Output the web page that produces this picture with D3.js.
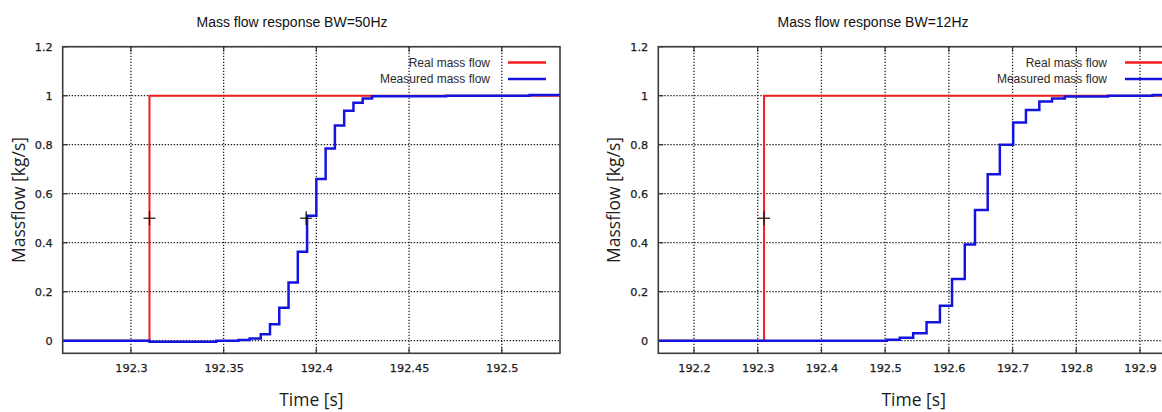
<!DOCTYPE html>
<html>
<head>
<meta charset="utf-8">
<script src="https://cdn.jsdelivr.net/npm/d3@7"></script>
<style>
  html, body { margin: 0; padding: 0; background: #fff; }
  svg { display: block; }
</style>
</head>
<body>
<svg id="chart" width="1162" height="412"></svg>
<script>
// ---- data -------------------------------------------------------------
// Step in the real mass flow (both panels)
const realStepTime = 192.31;
const realLow = 0;
const realHigh = 1;

// Measured response, 50 Hz bandwidth filter (sample-and-hold values)
const bw50Times = [192.2632, 192.31, 192.346, 192.358, 192.364, 192.37, 192.375, 192.38,
                   192.385, 192.39, 192.395, 192.40, 192.405, 192.41, 192.415, 192.42,
                   192.425, 192.43, 192.47, 192.515];
const bw50Flow  = [0, -0.004, 0, 0.003, 0.009, 0.026, 0.067, 0.135,
                   0.238, 0.363, 0.51, 0.66, 0.785, 0.878, 0.939, 0.971,
                   0.989, 0.998, 1.0, 1.003];

// Measured response, 12 Hz bandwidth filter
const bw12Times = [192.144, 192.3025, 192.5025, 192.523, 192.544, 192.565, 192.586, 192.605,
                   192.625, 192.641, 192.661, 192.68, 192.701, 192.721, 192.742, 192.762,
                   192.782, 192.85, 192.92];
const bw12Flow  = [0, 0, 0.004, 0.012, 0.03, 0.075, 0.143, 0.252,
                   0.393, 0.533, 0.679, 0.80, 0.891, 0.942, 0.976, 0.989,
                   0.997, 1.0, 1.003];

// 50 % crossing markers
const bw50MarkTimes = [192.31, 192.3945];
const bw50MarkFlow  = [0.5, 0.5];
const bw12MarkTimes = [192.31];
const bw12MarkFlow  = [0.5];

// Axis ticks and labels
const yTicks = [0, 0.2, 0.4, 0.6, 0.8, 1, 1.2];
const yTickLabels = ["0", "0.2", "0.4", "0.6", "0.8", "1", "1.2"];
const bw50XTicks = [192.3, 192.35, 192.4, 192.45, 192.5];
const bw50XTickLabels = ["192.3", "192.35", "192.4", "192.45", "192.5"];
const bw12XTicks = [192.2, 192.3, 192.4, 192.5, 192.6, 192.7, 192.8, 192.9];
const bw12XTickLabels = ["192.2", "192.3", "192.4", "192.5", "192.6", "192.7", "192.8", "192.9"];

const yDomain = [-0.0514, 1.2];
const bw50XDomain = [192.2632, 192.5314];
const bw12XDomain = [192.144, 192.9455];

const seriesNames = ["Real mass flow", "Measured mass flow"];

// ---- drawing ----------------------------------------------------------
const svg = d3.select("#chart");
const RED = "#f21c1c";
const BLUE = "#1414e0";

function panel(opts) {
  const { left, right, top, bottom, xDomain, xTicks, xLabels, times, flow,
          markTimes, markFlow, title, titleX, legendRight, clipId } = opts;

  const x = d3.scaleLinear().domain(xDomain).range([left, right]);
  const y = d3.scaleLinear().domain(yDomain).range([bottom, top]);

  const g = svg.append("g");

  g.append("defs").append("clipPath").attr("id", clipId)
    .append("rect").attr("x", left).attr("y", top)
    .attr("width", right - left).attr("height", bottom - top);

  // dotted grid
  const grid = g.append("g")
    .attr("stroke", "#222").attr("stroke-width", 1.3)
    .attr("stroke-dasharray", "1.4,1.6").attr("fill", "none");
  grid.selectAll("line.gx").data(xTicks).join("line")
    .attr("x1", d => x(d)).attr("x2", d => x(d))
    .attr("y1", top).attr("y2", bottom);
  grid.selectAll("line.gy").data(yTicks).join("line")
    .attr("x1", left).attr("x2", right)
    .attr("y1", d => y(d)).attr("y2", d => y(d));

  // axes (tick labels only, frame drawn separately)
  const xAxis = d3.axisBottom(x).tickValues(xTicks)
    .tickFormat((d, i) => xLabels[i]).tickSize(0).tickPadding(11);
  const yAxis = d3.axisLeft(y).tickValues(yTicks)
    .tickFormat((d, i) => yTickLabels[i]).tickSize(0).tickPadding(10);

  const xg = g.append("g").attr("transform", `translate(0,${bottom})`).call(xAxis);
  const yg = g.append("g").attr("transform", `translate(${left},0)`).call(yAxis);
  [xg, yg].forEach(a => {
    a.select(".domain").remove();
    a.selectAll("text").attr("font-family", "DejaVu Sans")
      .attr("font-size", 11.3).attr("fill", "#1c1c1c")
      .attr("stroke", "#1c1c1c").attr("stroke-width", 0.25);
  });

  // inward tick marks
  const tk = g.append("g").attr("stroke", "#333").attr("stroke-width", 1.3);
  tk.selectAll("line.bx").data(xTicks).join("line")
    .attr("x1", d => x(d)).attr("x2", d => x(d))
    .attr("y1", bottom).attr("y2", bottom - 5);
  tk.selectAll("line.ty").data(xTicks).join("line")
    .attr("x1", d => x(d)).attr("x2", d => x(d))
    .attr("y1", top).attr("y2", top + 5);
  tk.selectAll("line.ly").data(yTicks).join("line")
    .attr("x1", left).attr("x2", left + 5)
    .attr("y1", d => y(d)).attr("y2", d => y(d));

  // series
  const line = d3.line().curve(d3.curveStepAfter)
    .x(d => x(d[0])).y(d => y(d[1]));

  const realPts = [[xDomain[0], realLow], [realStepTime, realHigh], [xDomain[1], realHigh]];
  const measPts = times.map((t, i) => [t, flow[i]]);
  measPts.push([xDomain[1], flow[flow.length - 1]]);

  const plot = g.append("g").attr("clip-path", `url(#${clipId})`);
  plot.append("path").datum(realPts).attr("d", line)
    .attr("fill", "none").attr("stroke", RED).attr("stroke-width", 2);
  plot.append("path").datum(measPts).attr("d", line)
    .attr("fill", "none").attr("stroke", BLUE).attr("stroke-width", 2.5)
    .attr("stroke-linejoin", "miter");

  // 50 % markers
  const mk = g.append("g").attr("stroke", "#111").attr("stroke-width", 1.2);
  markTimes.forEach((t, i) => {
    const cx = x(t), cy = y(markFlow[i]);
    mk.append("line").attr("x1", cx - 6).attr("x2", cx + 6).attr("y1", cy).attr("y2", cy);
    mk.append("line").attr("x1", cx).attr("x2", cx).attr("y1", cy - 7).attr("y2", cy + 7);
  });

  // frame
  g.append("rect").attr("x", left).attr("y", top)
    .attr("width", right - left).attr("height", bottom - top)
    .attr("fill", "none").attr("stroke", "#3c3c3c").attr("stroke-width", 1.6);

  // legend
  const lg = g.append("g");
  [RED, BLUE].forEach((c, i) => {
    const ly = 62.5 + i * 16.5;
    lg.append("text").attr("x", legendRight).attr("y", ly)
      .attr("dy", "0.35em").attr("text-anchor", "end")
      .attr("font-family", "Liberation Sans").attr("font-size", 12)
      .attr("fill", "#2a2a2a").text(seriesNames[i]);
    lg.append("line").attr("x1", legendRight + 18).attr("x2", legendRight + 56)
      .attr("y1", ly).attr("y2", ly).attr("stroke", c).attr("stroke-width", 2.4);
  });

  // titles
  g.append("text").attr("x", titleX).attr("y", 27)
    .attr("text-anchor", "middle").attr("font-family", "Liberation Sans")
    .attr("font-size", 14).attr("fill", "#111").text(title);
  g.append("text").attr("x", (left + right) / 2).attr("y", 406)
    .attr("text-anchor", "middle").attr("font-family", "Open Sans")
    .attr("font-size", 17.5).attr("fill", "#1c1c1c").text("Time [s]");
  g.append("text")
    .attr("transform", `translate(${left - 38},${(top + bottom) / 2}) rotate(-90)`)
    .attr("text-anchor", "middle").attr("font-family", "Open Sans")
    .attr("font-size", 17.5).attr("fill", "#1c1c1c").text("Massflow [kg/s]");
}

panel({
  left: 62.7, right: 560, top: 46.7, bottom: 353.3,
  xDomain: bw50XDomain, xTicks: bw50XTicks, xLabels: bw50XTickLabels,
  times: bw50Times, flow: bw50Flow,
  markTimes: bw50MarkTimes, markFlow: bw50MarkFlow,
  title: "Mass flow response BW=50Hz", titleX: 292, legendRight: 490, clipId: "clipA"
});

panel({
  left: 658.3, right: 1169, top: 46.7, bottom: 353.3,
  xDomain: bw12XDomain, xTicks: bw12XTicks, xLabels: bw12XTickLabels,
  times: bw12Times, flow: bw12Flow,
  markTimes: bw12MarkTimes, markFlow: bw12MarkFlow,
  title: "Mass flow response BW=12Hz", titleX: 873, legendRight: 1107, clipId: "clipB"
});
</script>
</body>
</html>
